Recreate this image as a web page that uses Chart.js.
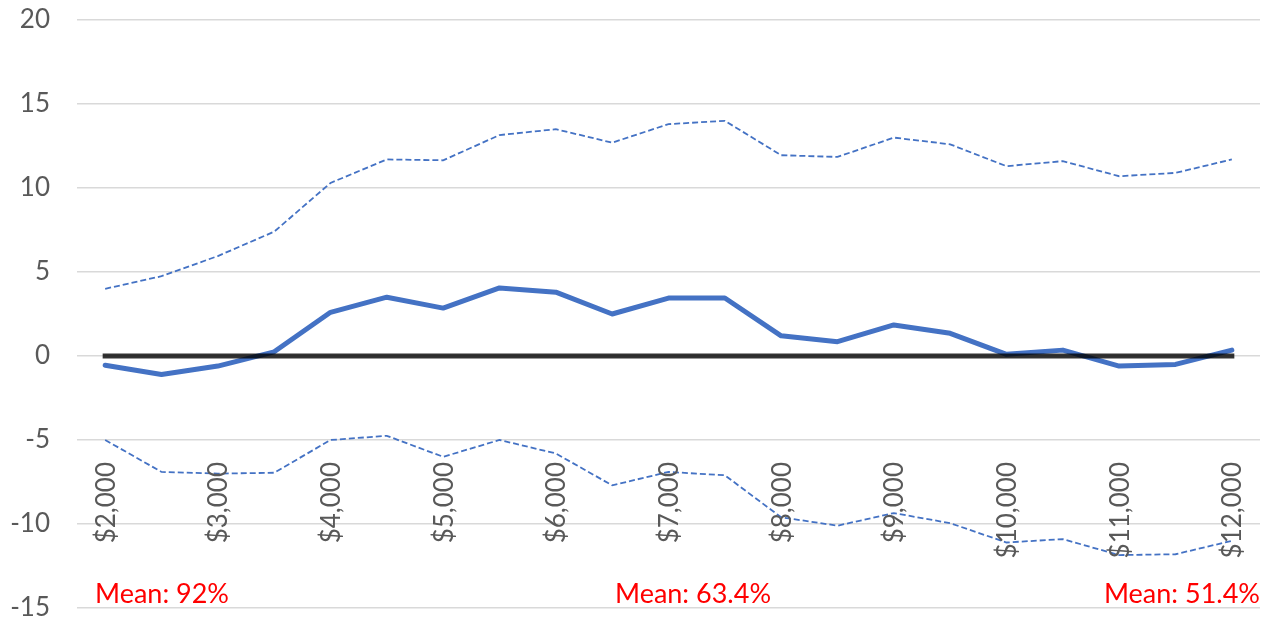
<!DOCTYPE html>
<html>
<head>
<meta charset="utf-8">
<script src="https://cdn.jsdelivr.net/npm/chart.js@4/dist/chart.umd.min.js"></script>
<style>
  html, body { margin: 0; padding: 0; background: #ffffff; }
  #wrap { width: 1274px; height: 622px; position: relative; }
</style>
</head>
<body>
<div id="wrap"><canvas id="chart" width="1274" height="622"></canvas></div>
<script>
// Price points, every $500 from $2,000 to $12,000
const categories = ['$2,000','$2,500','$3,000','$3,500','$4,000','$4,500','$5,000','$5,500','$6,000','$6,500',
  '$7,000','$7,500','$8,000','$8,500','$9,000','$9,500','$10,000','$10,500','$11,000','$11,500','$12,000'];

// Estimated effect
const estimate = [-0.55,-1.1,-0.6,0.25,2.6,3.5,2.85,4.05,3.8,2.5,3.45,3.45,1.2,0.85,1.85,1.35,0.1,0.35,-0.6,-0.5,0.35];
// Upper confidence bound
const upperBound = [4.0,4.75,5.95,7.4,10.3,11.7,11.65,13.15,13.5,12.7,13.8,14.0,11.95,11.85,13.0,12.6,11.3,11.6,10.7,10.9,11.7];
// Lower confidence bound
const lowerBound = [-5.0,-6.9,-7.0,-6.95,-5.0,-4.75,-6.0,-5.0,-5.8,-7.7,-6.9,-7.1,-9.6,-10.1,-9.35,-9.95,-11.1,-10.9,-11.85,-11.8,-11.0];
// Reference line at zero
const zeroLine = categories.map(() => 0);

// Y axis ticks
const yTicks = [-15,-10,-5,0,5,10,15,20];

// Mean annotations along the bottom
const meanLabels = ['Mean: 92%', 'Mean: 63.4%', 'Mean: 51.4%'];

const FONT = 'Lato, "Open Sans", sans-serif';

// Rotated price labels inside the plot, plus the mean notes
const labelPlugin = {
  id: 'labelPlugin',
  afterDraw(chart) {
    const ctx = chart.ctx;
    const x = chart.scales.x;
    const area = chart.chartArea;
    ctx.save();
    ctx.fillStyle = '#595959';
    ctx.font = '26px ' + FONT;
    categories.forEach((c, i) => {
      if (i % 2 !== 0) return;
      const px = x.getPixelForValue(i);
      ctx.save();
      ctx.translate(px, 462);
      ctx.rotate(-Math.PI / 2);
      ctx.textAlign = 'right';
      ctx.textBaseline = 'middle';
      ctx.fillText(c, 0, 1);
      ctx.restore();
    });
    ctx.fillStyle = '#ff0000';
    ctx.font = '27px ' + FONT;
    ctx.textBaseline = 'alphabetic';
    ctx.textAlign = 'left';
    ctx.fillText(meanLabels[0], 95, 603);
    ctx.textAlign = 'center';
    ctx.fillText(meanLabels[1], 693, 603);
    ctx.textAlign = 'right';
    ctx.fillText(meanLabels[2], area.right, 603);
    ctx.restore();
  }
};

new Chart(document.getElementById('chart'), {
  type: 'line',
  data: {
    labels: categories,
    datasets: [
      {
        data: zeroLine,
        borderColor: 'rgba(0,0,0,0.8)',
        borderWidth: 5,
        borderCapStyle: 'square',
        pointRadius: 0,
        tension: 0,
        order: 0
      },
      {
        data: estimate,
        borderColor: '#4472C4',
        borderWidth: 5,
        borderCapStyle: 'round',
        borderJoinStyle: 'round',
        pointRadius: 0,
        tension: 0,
        order: 1
      },
      {
        data: upperBound,
        borderColor: '#4472C4',
        borderWidth: 1.8,
        borderDash: [6, 3],
        pointRadius: 0,
        tension: 0,
        order: 2
      },
      {
        data: lowerBound,
        borderColor: '#4472C4',
        borderWidth: 1.8,
        borderDash: [6, 3],
        pointRadius: 0,
        tension: 0,
        order: 2
      }
    ]
  },
  options: {
    responsive: false,
    animation: false,
    layout: { padding: { top: 20, right: 14, bottom: 14, left: 0 } },
    plugins: {
      legend: { display: false },
      tooltip: { enabled: false }
    },
    scales: {
      x: {
        type: 'category',
        offset: true,
        display: false
      },
      y: {
        min: -15,
        max: 20,
        afterBuildTicks(scale) { scale.ticks = yTicks.map(v => ({ value: v })); },
        afterFit(scale) { scale.width = 77; },
        border: { display: false },
        grid: { color: '#d9d9d9', lineWidth: 1.5, drawTicks: true, tickLength: 27, tickColor: 'rgba(0,0,0,0)' },
        ticks: {
          color: '#595959',
          font: { family: FONT, size: 26, lineHeight: 1 },
          padding: 0
        }
      }
    }
  },
  plugins: [labelPlugin]
});
</script>
</body>
</html>
